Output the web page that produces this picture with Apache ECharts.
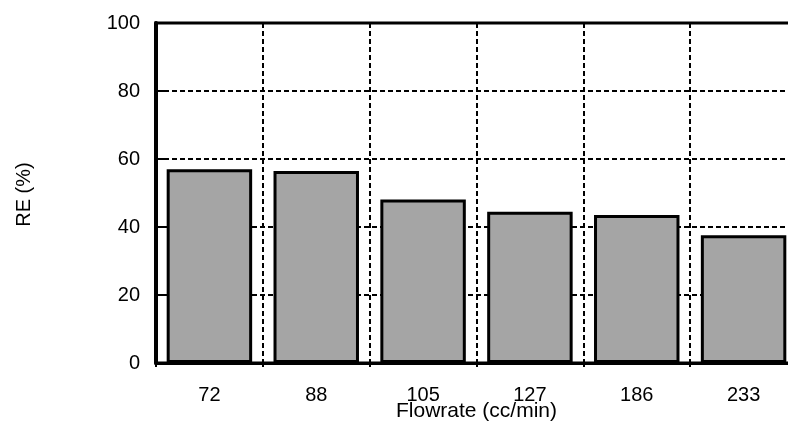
<!DOCTYPE html>
<html>
<head>
<meta charset="utf-8">
<script src="https://cdn.jsdelivr.net/npm/echarts@6/dist/echarts.min.js"></script>
<style>
  html, body { margin: 0; padding: 0; background: #fff; }
  #chart { width: 788px; height: 424px; }
</style>
</head>
<body>
<div id="chart"></div>
<script>
// Flow rates (cc/min) and the removal efficiency measured at each
const flowrates = ['72', '88', '105', '127', '186', '233'];
const removalEfficiency = [57.0, 56.5, 48.1, 44.5, 43.5, 37.6];
const yTicks = [0, 20, 40, 60, 80, 100];

const FONT = '"Liberation Sans", Arial, sans-serif';
const dashed = { color: '#000', width: 2, type: [5, 3] };

const chart = echarts.init(document.getElementById('chart'), null, { renderer: 'canvas' });
chart.setOption({
  animation: false,
  backgroundColor: '#fff',
  grid: {
    left: 156, top: 23, width: 641, height: 340,
    outerBoundsMode: 'none',
    containLabel: false,
    show: true, borderColor: '#000', borderWidth: 3, backgroundColor: 'transparent'
  },
  xAxis: {
    type: 'category',
    data: flowrates,
    boundaryGap: true,
    name: 'Flowrate (cc/min)',
    nameLocation: 'middle',
    nameGap: 38,
    nameMoveOverlap: false,
    nameTextStyle: { fontFamily: FONT, fontSize: 21, color: '#000' },
    axisLine: { lineStyle: { color: '#000', width: 3 } },
    axisTick: { show: true, length: 4, lineStyle: { color: '#000', width: 2 } },
    axisLabel: { fontFamily: FONT, fontSize: 20, color: '#000', margin: 22 },
    splitLine: { show: true, interval: 0, lineStyle: dashed }
  },
  yAxis: {
    type: 'value',
    min: yTicks[0],
    max: yTicks[yTicks.length - 1],
    interval: yTicks[1] - yTicks[0],
    name: 'RE (%)',
    nameLocation: 'middle',
    nameRotate: 90,
    nameGap: 122,
    nameMoveOverlap: false,
    nameTextStyle: { fontFamily: FONT, fontSize: 20, color: '#000', padding: [0, 3, 0, 0] },
    axisLine: { show: true, lineStyle: { color: '#000', width: 4 } },
    axisTick: { show: true, inside: true, length: 8, lineStyle: { color: '#000', width: 2 } },
    axisLabel: { fontFamily: FONT, fontSize: 20, color: '#000', margin: 16 },
    splitLine: { show: true, lineStyle: dashed }
  },
  series: [{
    type: 'bar',
    data: removalEfficiency,
    barCategoryGap: '20%',
    itemStyle: { color: '#a5a5a5', borderColor: '#000', borderWidth: 3 }
  }]
});
</script>
</body>
</html>
